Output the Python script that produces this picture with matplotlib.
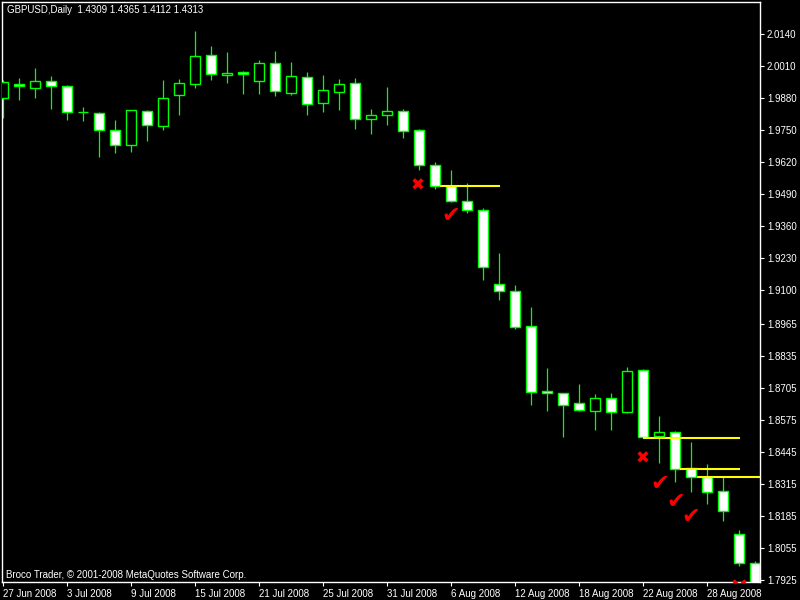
import matplotlib
matplotlib.use('Agg')
import matplotlib.pyplot as plt
from matplotlib.patches import Rectangle

# GBPUSD daily bars, 27 Jun 2008 .. 2 Sep 2008 (one entry per trading day)
opens = [1.9881, 1.9937, 1.9923, 1.9949, 1.9929, 1.9823, 1.9819, 1.9750,
         1.9689, 1.9827, 1.9769, 1.9892, 1.9937, 2.0055, 1.9974, 1.9987,
         1.9949, 2.0022, 1.9903, 1.9965, 1.9860, 1.9905, 1.9941, 1.9795,
         1.9811, 1.9827, 1.9750, 1.9608, 1.9523, 1.9462, 1.9425, 1.9125,
         1.9097, 1.8955, 1.8691, 1.8683, 1.8642, 1.8612, 1.8662, 1.8608,
         1.8776, 1.8510, 1.8524, 1.8378, 1.8343, 1.8285, 1.8110, 1.7992]
highs = [1.9955, 1.9963, 2.0003, 1.9971, 1.9934, 1.9844, 1.9825, 1.9792,
         1.9832, 1.9833, 1.9955, 1.9959, 2.0153, 2.0092, 2.0068, 1.9991,
         2.0034, 2.0072, 2.0028, 1.9987, 1.9975, 1.9959, 1.9963, 1.9837,
         1.9926, 1.9837, 1.9756, 1.9620, 1.9589, 1.9536, 1.9435, 1.9252,
         1.9122, 1.9033, 1.8785, 1.8684, 1.8720, 1.8678, 1.8684, 1.8788,
         1.8781, 1.8590, 1.8529, 1.8485, 1.8395, 1.8343, 1.8128, 1.8002]
lows = [1.9800, 1.9874, 1.9879, 1.9838, 1.9793, 1.9789, 1.9643, 1.9659,
        1.9663, 1.9708, 1.9749, 1.9810, 1.9923, 1.9952, 1.9943, 1.9899,
        1.9899, 1.9891, 1.9895, 1.9810, 1.9826, 1.9834, 1.9757, 1.9736,
        1.9773, 1.9720, 1.9590, 1.9513, 1.9460, 1.9416, 1.9140, 1.9062,
        1.8944, 1.8635, 1.8611, 1.8506, 1.8611, 1.8534, 1.8534, 1.8601,
        1.8505, 1.8401, 1.8322, 1.8282, 1.8234, 1.8164, 1.7979, 1.7860]
closes = [1.9946, 1.9929, 1.9949, 1.9929, 1.9823, 1.9823, 1.9750, 1.9689,
          1.9831, 1.9771, 1.9880, 1.9941, 2.0051, 1.9978, 1.9982, 1.9979,
          2.0022, 1.9909, 1.9970, 1.9856, 1.9913, 1.9937, 1.9795, 1.9811,
          1.9827, 1.9746, 1.9608, 1.9523, 1.9464, 1.9428, 1.9194, 1.9097,
          1.8953, 1.8689, 1.8683, 1.8636, 1.8616, 1.8662, 1.8608, 1.8772,
          1.8506, 1.8524, 1.8376, 1.8341, 1.8283, 1.8206, 1.7992, 1.7880]

date_labels = ['27 Jun 2008', '3 Jul 2008', '9 Jul 2008', '15 Jul 2008',
               '21 Jul 2008', '25 Jul 2008', '31 Jul 2008', '6 Aug 2008',
               '12 Aug 2008', '18 Aug 2008', '22 Aug 2008', '28 Aug 2008']
date_every = 4

price_ticks = [2.0140, 2.0010, 1.9880, 1.9750, 1.9620, 1.9490, 1.9360,
               1.9230, 1.9100, 1.8965, 1.8835, 1.8705, 1.8575, 1.8445,
               1.8315, 1.8185, 1.8055, 1.7925]

# horizontal trade levels (bar from, bar to, price)
level_from = [27.31, 40.0, 42.31, 43.375]
level_to = [31.06, 46.06, 46.06, 47.5]
level_price = [1.9525, 1.8502, 1.8376, 1.8344]

# red marks
cross_x = [25.94, 39.98]
cross_y = [1.9525, 1.8416]
check_x = [28.0, 41.06, 42.06, 43.0]
check_y = [1.9402, 1.8314, 1.8241, 1.8180]
# mark mostly hidden below the bottom edge
hidden_x = [46.0]
hidden_y = [1.7900]

title_text = 'GBPUSD,Daily  1.4309 1.4365 1.4112 1.4313'
copyright_text = 'Broco Trader, \u00a9 2001-2008 MetaQuotes Software Corp.'

green = '#00FF00'
font = ['Liberation Sans', 'DejaVu Sans']
plt.rcParams['font.family'] = font

fig = plt.figure(figsize=(8, 6), dpi=100, facecolor='black')
ax = fig.add_axes([0.003, 0.03, 0.947, 0.966], facecolor='black')

body_w = 0.6
for i in range(len(opens)):
    o, h, l, c = opens[i], highs[i], lows[i], closes[i]
    ax.vlines(i, l, h, color=green, lw=0.9, zorder=2)
    fill = 'black' if c > o else 'white'
    ax.add_patch(Rectangle((i - body_w / 2, min(o, c)), body_w, abs(c - o),
                           facecolor=fill, edgecolor=green, lw=1.0, zorder=3))

ax.hlines(level_price, level_from, level_to, colors='#FFFF00', lw=1.5, zorder=4)

for x, y in zip(cross_x, cross_y):
    ax.text(x, y, '\u2716', color='red', fontsize=12, ha='center', va='center',
            family='DejaVu Sans', zorder=5, clip_on=True)
for x, y in zip(check_x, check_y):
    ax.text(x, y, '\u2714', color='red', fontsize=16, ha='center', va='center',
            family='DejaVu Sans', zorder=5, clip_on=True)
ax.plot(hidden_x, hidden_y, linestyle='none', marker='x', color='red',
        markersize=8, mew=2.5, zorder=5, clip_on=True)

ax.set_xlim(-0.03, 47.31)
ax.set_ylim(1.7916, 2.0269)

ax.yaxis.tick_right()
ax.set_yticks(price_ticks)
ax.set_yticklabels(['%.4f' % p for p in price_ticks])
ax.set_xticks(range(0, date_every * len(date_labels), date_every))
ax.set_xticklabels(date_labels)
for lbl in ax.get_xticklabels():
    lbl.set_horizontalalignment('left')

ax.tick_params(colors='white', labelcolor='white', labelsize=7,
               direction='out', length=3, width=0.8, pad=2)
for s in ax.spines.values():
    s.set_color('white')
    s.set_linewidth(1.0)

ax.text(0.006, 0.987, title_text, transform=ax.transAxes, color='white',
        fontsize=7, ha='left', va='center')
ax.text(0.0046, 0.012, copyright_text, transform=ax.transAxes, color='white',
        fontsize=7, ha='left', va='center')

fig.savefig('out.png', dpi=100, facecolor='black')
